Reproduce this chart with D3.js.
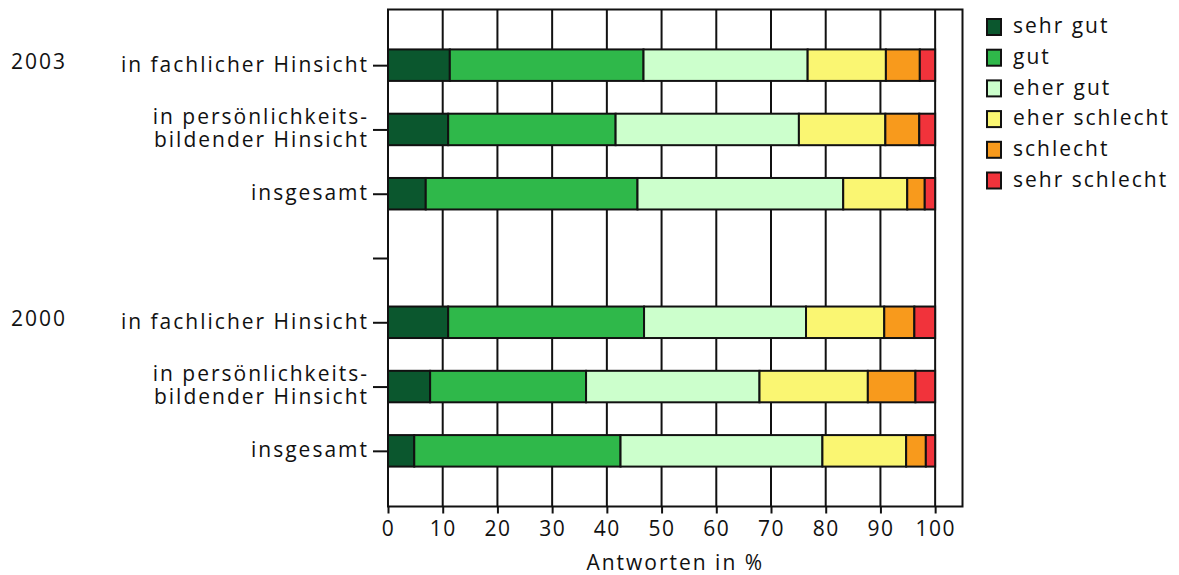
<!DOCTYPE html>
<html>
<head>
<meta charset="utf-8">
<script src="https://cdn.jsdelivr.net/npm/d3@7"></script>
<style>
  body { margin: 0; background: #fff; }
  svg text { font-family: "Open Sans", "DejaVu Sans", sans-serif; fill: #111; letter-spacing: 2px; }
</style>
</head>
<body>
<svg width="1179" height="575"></svg>
<script>
// -------------------- Data --------------------
const rows = ["f2003", "p2003", "i2003", "gap", "f2000", "p2000", "i2000"];
const rowLabels = {
  f2003: ["in fachlicher Hinsicht"],
  p2003: ["in persönlichkeits-", "bildender Hinsicht"],
  i2003: ["insgesamt"],
  gap: [],
  f2000: ["in fachlicher Hinsicht"],
  p2000: ["in persönlichkeits-", "bildender Hinsicht"],
  i2000: ["insgesamt"]
};
const years = [["2003", "f2003"], ["2000", "f2000"]];
const grades = ["sehr gut", "gut", "eher gut", "eher schlecht", "schlecht", "sehr schlecht"];
const colors = ["#0b572e", "#2fb84a", "#ccffcc", "#faf672", "#f89a1c", "#f1333b"];

// shares per row in %, same order as barRows
const sehrGut      = [11.3, 11.0, 6.9, 11.0, 7.7, 4.8];
const gut          = [35.4, 30.6, 38.7, 35.8, 28.5, 37.7];
const eherGut      = [30.0, 33.5, 37.6, 29.6, 31.7, 36.9];
const eherSchlecht = [14.3, 15.8, 11.7, 14.3, 19.8, 15.3];
const schlecht     = [6.2, 6.2, 3.2, 5.5, 8.7, 3.6];
const sehrSchlecht = [2.8, 2.9, 1.9, 3.8, 3.6, 1.7];
const barRows = ["f2003", "p2003", "i2003", "f2000", "p2000", "i2000"];
const xTicks = [0, 10, 20, 30, 40, 50, 60, 70, 80, 90, 100];

// -------------------- Layout --------------------
const svg = d3.select("svg");
const x = d3.scaleLinear().domain([0, 105]).range([388, 962.5]);
const y = d3.scalePoint().domain(rows).range([9.5, 506.5]).padding(0.866);
const barH = y.step() * 0.49;

const series = [sehrGut, gut, eherGut, eherSchlecht, schlecht, sehrSchlecht];
const data = barRows.map((r, i) => {
  const d = { row: r };
  grades.forEach((g, j) => { d[g] = series[j][i]; });
  return d;
});
const stacked = d3.stack().keys(grades)(data);

// frame
svg.append("rect")
  .attr("x", x(0)).attr("y", 9.5)
  .attr("width", x(105) - x(0)).attr("height", 497)
  .attr("fill", "none").attr("stroke", "#111").attr("stroke-width", 2);

// vertical grid
svg.append("g").selectAll("line")
  .data(xTicks.slice(1))
  .join("line")
  .attr("x1", d => x(d)).attr("x2", d => x(d))
  .attr("y1", 9.5).attr("y2", 506.5)
  .attr("stroke", "#111").attr("stroke-width", 2);

// bars
svg.append("g").selectAll("g")
  .data(stacked)
  .join("g")
  .attr("fill", (d, i) => colors[i])
  .selectAll("rect")
  .data(d => d)
  .join("rect")
  .attr("x", d => x(d[0]))
  .attr("width", d => x(d[1]) - x(d[0]))
  .attr("y", d => y(d.data.row) - barH / 2)
  .attr("height", barH)
  .attr("stroke", "#111")
  .attr("stroke-width", 2);

// x axis
const xAxis = svg.append("g")
  .attr("transform", "translate(0,506.5)")
  .call(d3.axisBottom(x).tickValues(xTicks).tickSize(7).tickPadding(8));
xAxis.select(".domain").remove();
xAxis.selectAll("line").attr("stroke", "#111").attr("stroke-width", 2);
xAxis.selectAll("text").attr("font-size", 21).style("letter-spacing", "1.5px");

svg.append("text")
  .attr("x", x(52.5)).attr("y", 570)
  .attr("text-anchor", "middle")
  .attr("font-size", 21)
  .text("Antworten in %");

// y axis
const yAxis = svg.append("g")
  .attr("transform", `translate(${x(0)},0)`)
  .call(d3.axisLeft(y).tickSize(15).tickFormat(""));
yAxis.select(".domain").remove();
yAxis.selectAll("line").attr("stroke", "#111").attr("stroke-width", 2);

// category labels, two-line ones as tspans in one text
const labels = svg.append("g").attr("font-size", 21).attr("text-anchor", "end");
rows.filter(r => rowLabels[r].length).forEach(r => {
  const lines = rowLabels[r];
  const t = labels.append("text")
    .attr("y", y(r) - (lines.length - 1) * 11.5 - 1);
  lines.forEach((s, i) => {
    t.append("tspan")
      .attr("x", 369)
      .attr("dy", i === 0 ? "0.35em" : 23)
      .text(s);
  });
});

svg.append("g").selectAll("text")
  .data(years)
  .join("text")
  .attr("x", 11)
  .attr("y", d => y(d[1]) - 4)
  .attr("dy", "0.35em")
  .attr("font-size", 21)
  .style("letter-spacing", "2px")
  .text(d => d[0]);

// legend
const legend = svg.append("g").attr("transform", "translate(987,19)");
const item = legend.selectAll("g")
  .data(grades)
  .join("g")
  .attr("transform", (d, i) => `translate(0,${i * 30.7})`);
item.append("rect")
  .attr("width", 14).attr("height", 16)
  .attr("fill", (d, i) => colors[i])
  .attr("stroke", "#111").attr("stroke-width", 2);
item.append("text")
  .attr("x", 26).attr("y", 7)
  .attr("dy", "0.35em")
  .attr("font-size", 21)
  .text(d => d);
</script>
</body>
</html>
